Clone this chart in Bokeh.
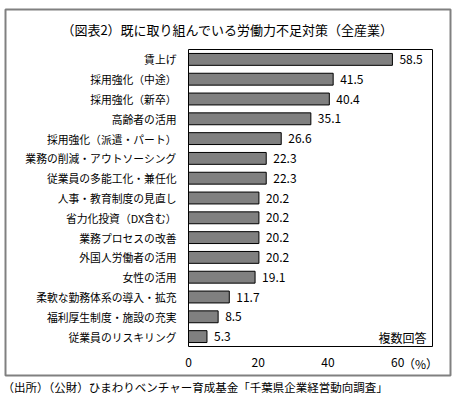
from bokeh.plotting import figure
from bokeh.models import ColumnDataSource, Label, FixedTicker, Range1d, LinearAxis
from bokeh.core.properties import value
from bokeh.embed import file_html
from bokeh.resources import INLINE

categories = ["賃上げ", "採用強化（中途）", "採用強化（新卒）", "高齢者の活用",
              "採用強化（派遣・パート）", "業務の削減・アウトソーシング",
              "従業員の多能工化・兼任化", "人事・教育制度の見直し", "省力化投資（DX含む）",
              "業務プロセスの改善", "外国人労働者の活用", "女性の活用",
              "柔軟な勤務体系の導入・拡充", "福利厚生制度・施設の充実", "従業員のリスキリング"]
values = [58.5, 41.5, 40.4, 35.1, 26.6, 22.3, 22.3, 20.2, 20.2, 20.2, 20.2, 19.1, 11.7, 8.5, 5.3]
x_ticks = [0, 20, 40, 60]
title_text = "（図表2）既に取り組んでいる労働力不足対策（全産業）"
note_text = "複数回答"
unit_text = "（%）"
source_text = "（出所）（公財）ひまわりベンチャー育成基金「千葉県企業経営動向調査」"

FONT = "Noto Sans CJK JP"
XMAX = 70

# page-pixel layout of the reference
PAGE_X0, PAGE_Y0 = 0, 0          # canvas origin on the page
W, H = 460, 398                  # canvas size
F_LEFT, F_RIGHT = 188, 432       # chart frame (page px)
F_TOP, F_BOTTOM = 49, 346

n = len(categories)
ppx = (F_RIGHT - F_LEFT) / XMAX
ppy = (F_BOTTOM - F_TOP) / n
y0_page = F_BOTTOM - ppy / 2     # page y of the lowest category centre


def dx(page_x):
    return (page_x - F_LEFT) / ppx


def dy(page_y):
    return (y0_page - page_y) / ppy


positions = [n - 1 - i for i in range(n)]
src = ColumnDataSource(dict(pos=positions, val=values, lbl=[f"{v:.1f}" for v in values]))

p = figure(width=W, height=H, title=None,
           x_range=Range1d(dx(PAGE_X0), dx(PAGE_X0 + W)),
           y_range=Range1d(dy(PAGE_Y0 + H), dy(PAGE_Y0)),
           x_axis_type=None, y_axis_type=None,
           output_backend="svg", toolbar_location=None, min_border=0)
p.outline_line_color = None
p.grid.visible = False
p.background_fill_color = "white"
p.border_fill_color = "white"

# outer grey box
p.quad(left=dx(5), right=dx(450), top=dy(9), bottom=dy(375),
       fill_color=None, line_color="#808080", line_width=2)
# chart frame
p.quad(left=0, right=XMAX, bottom=-0.5, top=n - 0.5,
       fill_color=None, line_color="black", line_width=1)

p.hbar(y="pos", right="val", left=0, height=0.6, source=src,
       fill_color="#808080", line_color="black", line_width=1)

p.text(x="val", y="pos", text="lbl", source=src, x_offset=7,
       text_baseline="middle", text_font_size="12px",
       text_font=value(FONT), text_color="black")

xaxis = LinearAxis(fixed_location=-0.5, ticker=FixedTicker(ticks=x_ticks))
xaxis.axis_line_color = None
xaxis.major_tick_line_color = None
xaxis.minor_tick_line_color = None
xaxis.major_tick_out = 0
xaxis.major_label_standoff = 11
xaxis.major_label_text_font = FONT
xaxis.major_label_text_font_size = "12px"
xaxis.major_label_text_color = "black"
p.add_layout(xaxis, "below")

yaxis = LinearAxis(fixed_location=0, ticker=FixedTicker(ticks=positions),
                   major_label_overrides={pp: c for pp, c in zip(positions, categories)})
yaxis.axis_line_color = None
yaxis.major_tick_line_color = None
yaxis.minor_tick_line_color = None
yaxis.major_tick_out = 0
yaxis.major_label_standoff = 12
yaxis.major_label_text_font = FONT
yaxis.major_label_text_font_size = "10.8px"
yaxis.major_label_text_color = "black"
p.add_layout(yaxis, "left")

p.add_layout(Label(x=dx(227), y=dy(29), text=title_text, text_align="center",
                   text_baseline="middle", text_font=FONT, text_font_size="13px",
                   text_color="black"))
p.add_layout(Label(x=dx(420), y=dy(363), text=unit_text, text_align="center",
                   text_baseline="middle", text_font=FONT, text_font_size="12px",
                   text_color="black"))
p.add_layout(Label(x=dx(426), y=dy(337), text=note_text, text_align="right",
                   text_baseline="middle", text_font=FONT, text_font_size="12px",
                   text_color="black"))
p.add_layout(Label(x=dx(2), y=dy(386), text=source_text, text_align="left",
                   text_baseline="middle", text_font=FONT, text_font_size="11.5px",
                   text_color="black"))

open("out.html", "w").write(file_html(p, INLINE))
